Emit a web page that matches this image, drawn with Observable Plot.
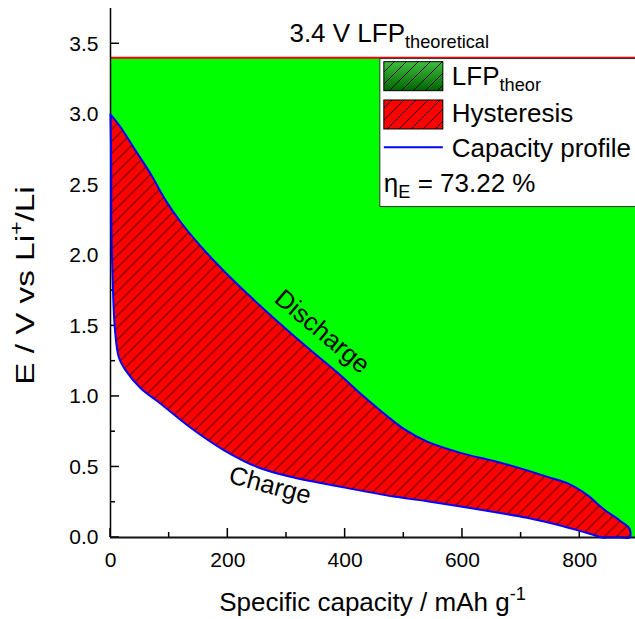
<!DOCTYPE html>
<html><head><meta charset="utf-8">
<script src="https://cdn.jsdelivr.net/npm/d3@7"></script>
<script src="https://cdn.jsdelivr.net/npm/@observablehq/plot@0.6"></script>
<style>html,body{margin:0;padding:0;background:#fff;overflow:hidden} svg{display:block}</style>
</head><body><div id="chart"></div>
<script>
// ---- data ----
const dischargeX = [0, 17, 40, 68, 94, 119, 159, 210, 256, 307, 352, 392, 426, 460, 500, 540, 597, 665, 745, 784, 813, 841, 870, 885];
const dischargeY = [3.0, 2.91, 2.76, 2.58, 2.39, 2.24, 2.04, 1.82, 1.64, 1.45, 1.29, 1.15, 1.02, 0.90, 0.77, 0.68, 0.60, 0.53, 0.43, 0.375, 0.30, 0.20, 0.115, 0.06];
const chargeX = [0, 1.2, 1.7, 4, 7.3, 14, 25, 51, 85, 136, 193, 250, 307, 404, 483, 540, 597, 654, 710, 767, 801, 824, 838, 852, 868, 885];
const chargeY = [3.0, 2.63, 2.16, 1.78, 1.49, 1.28, 1.19, 1.06, 0.95, 0.78, 0.62, 0.50, 0.43, 0.35, 0.29, 0.257, 0.22, 0.18, 0.14, 0.085, 0.045, 0.018, 0.0, 0.0, 0.0, 0.0];
const theoreticalV = 3.4;
const xMax = 895;
const yMax = 3.75;
const xMajorTicks = [0, 200, 400, 600, 800];
const xMinorTicks = [100, 300, 500, 700];
const yMajorTicks = [0, 0.5, 1.0, 1.5, 2.0, 2.5, 3.0, 3.5];
const yMinorTicks = [0.25, 0.75, 1.25, 1.75, 2.25, 2.75, 3.25];
const annotationText = ["Discharge", "Charge"];
const annotationX = [361, 272];
const annotationY = [1.46, 0.369];
const annotationAngle = [40, 15];
const legendLabels = ["LFP", "Hysteresis", "Capacity profile"];
const efficiencyText = "73.22 %";

// ---- build tables ----
const discharge = dischargeX.map((x, i) => ({x, y: dischargeY[i]}));
const charge = chargeX.map((x, i) => ({x, y: chargeY[i]}));
const endX = dischargeX[dischargeX.length - 1];
const loop = [...discharge, ...charge.slice().reverse()];
const annotations = annotationText.map((t, i) => ({t, x: annotationX[i], y: annotationY[i], r: annotationAngle[i]}));

const FONT = "'Liberation Sans', Arial, Helvetica, sans-serif";
const CURVE = "catmull-rom";

const plot = Plot.plot({
  width: 635, height: 619,
  marginLeft: 110, marginRight: 0, marginTop: 8, marginBottom: 82,
  x: {domain: [0, xMax]},
  y: {domain: [0, yMax]},
  style: {fontFamily: FONT, background: "white", color: "black"},
  marks: [
    Plot.areaY(discharge, {x: "x", y1: "y", y2: theoreticalV, curve: CURVE, fill: "#00ff00"}),
    Plot.rect([0], {x1: endX - 5, x2: xMax, y1: 0, y2: theoreticalV, fill: "#00ff00"}),
    Plot.line(loop, {x: "x", y: "y", curve: CURVE, fill: "#ff0000", stroke: "none"}),
    Plot.line(loop, {x: "x", y: "y", curve: CURVE, fill: "url(#hatch)", stroke: "none"}),
    Plot.ruleY([theoreticalV], {stroke: "#ff0000", strokeWidth: 2}),
    Plot.ruleX([0], {stroke: "#000", strokeWidth: 1.5}),
    Plot.ruleY([0], {stroke: "#111", strokeWidth: 2}),
    Plot.line(loop, {x: "x", y: "y", curve: CURVE, stroke: "#0000ff", strokeWidth: 2, fill: "none"}),
    Plot.axisX({ticks: xMajorTicks, tickSize: 0, tickPadding: 15, fontSize: 21, label: null, tickFormat: d => String(d)}),
    Plot.axisY({ticks: yMajorTicks, tickSize: 0, tickPadding: 12, fontSize: 21, label: null, tickFormat: d => d.toFixed(1)}),
    Plot.text(annotations, {x: "x", y: "y", text: "t", rotate: "r", fontSize: 25.5, fill: "black"})
  ]
});
document.getElementById("chart").appendChild(plot);

const svg = d3.select(plot);
const xs = plot.scale("x"), ys = plot.scale("y");

// defs: hatch pattern and gradient
const defs = svg.insert("defs", ":first-child");
const pat = defs.append("pattern").attr("id", "hatch").attr("patternUnits", "userSpaceOnUse").attr("width", 12).attr("height", 12);
pat.append("path").attr("d", "M-3,3 L3,-3 M0,12 L12,0 M9,15 L15,9").attr("stroke", "#000").attr("stroke-width", 0.9).attr("fill", "none");
const grad = defs.append("linearGradient").attr("id", "greenGrad").attr("x1", 0).attr("y1", 0).attr("x2", 0).attr("y2", 1);
grad.append("stop").attr("offset", "0%").attr("stop-color", "#3fbf3f");
grad.append("stop").attr("offset", "100%").attr("stop-color", "#006400");

// inward ticks, drawn under the fills
const x0 = xs.apply(0), y0 = ys.apply(0);
const tg = svg.insert("g", "g").attr("stroke", "#000").attr("stroke-width", 1.5);
for (const v of yMajorTicks) tg.append("line").attr("x1", x0).attr("x2", x0 + 9).attr("y1", ys.apply(v)).attr("y2", ys.apply(v));
for (const v of yMinorTicks) tg.append("line").attr("x1", x0).attr("x2", x0 + 5).attr("y1", ys.apply(v)).attr("y2", ys.apply(v));
for (const v of xMajorTicks) tg.append("line").attr("y1", y0).attr("y2", y0 - 9).attr("x1", xs.apply(v)).attr("x2", xs.apply(v));
for (const v of xMinorTicks) tg.append("line").attr("y1", y0).attr("y2", y0 - 5).attr("x1", xs.apply(v)).attr("x2", xs.apply(v));

function richText(parent, x, y, parts, opts) {
  const t = parent.append("text").attr("x", x).attr("y", y)
    .attr("font-size", opts.size).attr("text-anchor", opts.anchor || "start").attr("fill", "#000");
  if (opts.transform) t.attr("transform", opts.transform);
  let shift = 0;
  for (const p of parts) {
    const ts = t.append("tspan").text(p.t);
    const target = p.sub ? 0.25 * opts.size : p.sup ? -0.42 * opts.size : 0;
    if (target !== shift) ts.attr("dy", target - shift);
    shift = target;
    if (p.sub || p.sup) ts.attr("font-size", opts.size * 0.7);
  }
  return t;
}

const overlay = svg.append("g");
// title above the 3.4 V line
richText(overlay, xs.apply(476), ys.apply(3.51), [{t: "3.4 V LFP"}, {t: "theoretical", sub: true}], {size: 26, anchor: "middle"});

// axis titles
const frameCx = (xs.range[0] + xs.range[1]) / 2;
richText(overlay, frameCx, 611, [{t: "Specific capacity / mAh g"}, {t: "-1", sup: true}], {size: 26, anchor: "middle"});
const frameCy = (ys.range[0] + ys.range[1]) / 2 + 13;
richText(overlay, 0, 0, [{t: "E / V vs Li"}, {t: "+", sup: true}, {t: "/Li"}], {size: 26, anchor: "middle", transform: `translate(34,${frameCy}) rotate(-90) scale(1.28,1)`});

// legend
const lx = xs.apply(460), ly = ys.apply(theoreticalV);
const lg = overlay.append("g");
lg.append("rect").attr("x", lx).attr("y", ly + 1.2).attr("width", 400).attr("height", 148).attr("fill", "#fff").attr("stroke", "#333").attr("stroke-width", 1);
lg.append("rect").attr("x", lx + 4).attr("y", ly + 4.3).attr("width", 59).attr("height", 29).attr("fill", "url(#greenGrad)");
lg.append("rect").attr("x", lx + 4).attr("y", ly + 4.3).attr("width", 59).attr("height", 29).attr("fill", "url(#hatch)").attr("stroke", "#000").attr("stroke-width", 1);
lg.append("rect").attr("x", lx + 4).attr("y", ly + 42.6).attr("width", 59).attr("height", 29).attr("fill", "#ff0000");
lg.append("rect").attr("x", lx + 4).attr("y", ly + 42.6).attr("width", 59).attr("height", 29).attr("fill", "url(#hatch)").attr("stroke", "#000").attr("stroke-width", 1);
lg.append("line").attr("x1", lx + 4).attr("x2", lx + 63).attr("y1", ly + 89.9).attr("y2", ly + 89.9).attr("stroke", "#0000ff").attr("stroke-width", 2);
richText(lg, lx + 72, ly + 27.6, [{t: legendLabels[0]}, {t: "theor", sub: true}], {size: 26});
richText(lg, lx + 72, ly + 64.3, [{t: legendLabels[1]}], {size: 26});
richText(lg, lx + 72, ly + 99.3, [{t: legendLabels[2]}], {size: 26});
richText(lg, lx + 4, ly + 134.3, [{t: "η"}, {t: "E", sub: true}, {t: " = " + efficiencyText}], {size: 26});
</script>
</body></html>
